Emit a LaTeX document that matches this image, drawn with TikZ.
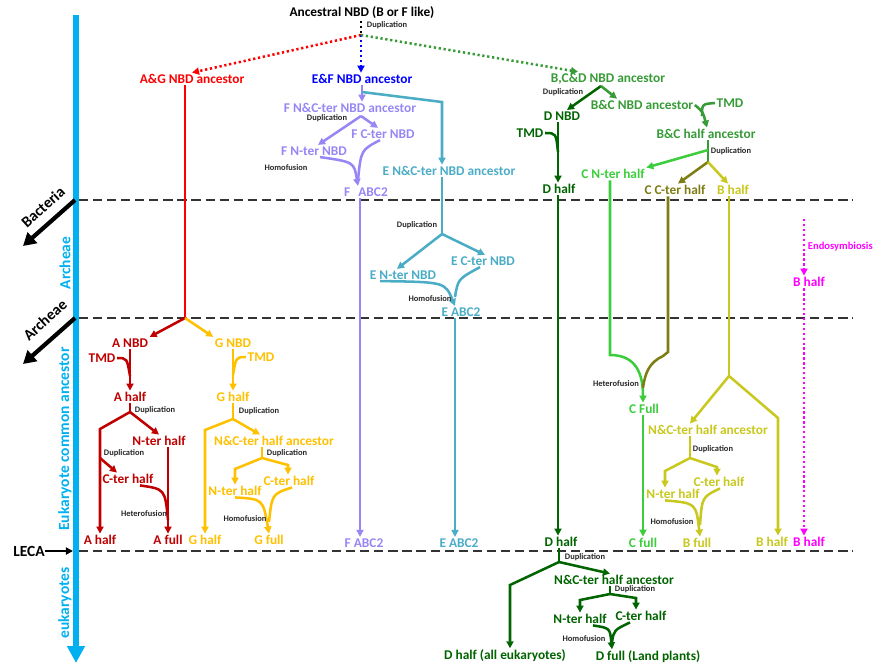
\documentclass[tikz,border=0pt]{standalone}
\usepackage{fontspec}
\setmainfont{Carlito}
\usepackage{tikz}
\usetikzlibrary{arrows.meta}
\usepackage{xcolor}
\definecolor{axisblue}{RGB}{0,176,240}
\definecolor{agred}{RGB}{255,0,0}
\definecolor{adred}{RGB}{192,0,0}
\definecolor{gorange}{RGB}{255,192,0}
\definecolor{efblue}{RGB}{0,0,255}
\definecolor{fpurple}{RGB}{150,135,245}
\definecolor{ecyan}{RGB}{75,172,198}
\definecolor{bcdgreen}{RGB}{55,155,55}
\definecolor{dgreen}{RGB}{0,100,0}
\definecolor{cgreen}{RGB}{60,205,60}
\definecolor{colive}{RGB}{125,125,20}
\definecolor{byellow}{RGB}{200,200,30}
\definecolor{bmagenta}{RGB}{255,0,255}
\begin{document}
\begin{tikzpicture}[x=0.025cm,y=-0.025cm,>={Triangle[length=5pt,width=5pt]},
  lbl/.style={font=\bfseries\fontsize{9.5}{11}\selectfont,inner sep=1pt},
  evt/.style={font=\bfseries\fontsize{6}{7}\selectfont,text=black!85,inner sep=0.5pt},
  sidelbl/.style={font=\bfseries\fontsize{11}{13}\selectfont,inner sep=0pt},
  br/.style={line width=1.8pt},
  dotline/.style={line width=1.8pt,dash pattern=on 1.6pt off 1.9pt},
  epochline/.style={line width=0.9pt,black!80,dash pattern=on 6.5pt off 3.5pt}]
\useasboundingbox (0,0) rectangle (874,667);
\draw[axisblue,line width=3.6pt,-{Triangle[length=12pt,width=12pt]}] (76,15) -- (76,663);
\foreach \y in {200,318,551} \draw[epochline] (79,\y) -- (853,\y);
\node[sidelbl,text=axisblue,rotate=90] at (65,263) {Archeae};
\node[sidelbl,text=axisblue,rotate=90] at (65,439) {Eukaryote common ancestor};
\node[sidelbl,text=axisblue,rotate=90] at (65,603) {eukaryotes};
\draw[line width=3pt,-{Triangle[length=9pt,width=10pt]}] (75,200) -- (23,246);
\node[sidelbl,rotate=42] at (43,207) {Bacteria};
\draw[line width=3pt,-{Triangle[length=9pt,width=10pt]}] (75,318) -- (23,364);
\node[sidelbl,rotate=42] at (45,320) {Archeae};
\node[sidelbl] (leca) at (29,551) {LECA};
\draw[line width=1.6pt,->] (leca) -- (73,551);

\node[lbl] (anc) at (362,13) {Ancestral NBD (B or F like)};
\coordinate (split) at (361,35);
\draw[dotline] (anc.south -| split) -- (split);
\node[evt,anchor=west] at (366,25) {Duplication};
\node[lbl,text=agred] (ag) at (192,79) {A\&G NBD ancestor};
\node[lbl,text=efblue] (ef) at (362,79) {E\&F NBD ancestor};
\node[lbl,text=bcdgreen] (bcd) at (608,79) {B,C\&D NBD ancestor};
\draw[dotline,agred,->] (split) -- (ag.north);
\draw[dotline,efblue,->] (split) -- (ef.north -| split);
\draw[dotline,bcdgreen,->] (split) -- (bcd.north -| 578,0);

\coordinate (agsplit) at (185,318);
\node[lbl,text=adred] (aNBD) at (130,343) {A NBD};
\node[lbl,text=gorange] (gNBD) at (233,343) {G NBD};
\draw[br,agred] (ag.south -| agsplit) -- (agsplit);
\draw[br,adred,->] (agsplit) -- (aNBD.north east);
\draw[br,gorange,->] (agsplit) -- (gNBD.north west);

\node[lbl,text=adred] (aTMD) at (102,358) {TMD};
\node[lbl,text=adred] (aHalf) at (130,397) {A half};
\draw[br,adred,->] (aNBD.south) -- (aHalf.north);
\draw[br,adred] (aTMD.east) .. controls (127,358) .. (130,376);
\node[evt,anchor=west] at (134,410) {Duplication};
\coordinate (aDup) at (130,412);
\node[lbl,text=adred] (aNter) at (159,441) {N-ter half};
\node[lbl,text=adred] (aCter) at (128,479) {C-ter half};
\node[lbl,text=adred] (aHalfEnd) at (100,540) {A half};
\node[lbl,text=adred] (aFull) at (168,540) {A full};
\draw[br,adred] (aHalf.south) -- (aDup);
\draw[br,adred,->] (aDup) -- (aHalfEnd.north |- 0,429) -- (aHalfEnd.north);
\draw[br,adred,->] (aDup) -- (aNter.north);
\draw[br,adred,->] (aNter.south -| aFull) -- (aFull.north);
\coordinate (aDup2) at (100,458);
\node[evt,anchor=west] at (103,453) {Duplication};
\draw[br,adred,->] (aDup2) -- (aCter.north -| 117,0);
\draw[br,adred] (aCter.south -| 140,0) .. controls (165,489) .. (168,520);
\node[evt] at (144,514) {Heterofusion};

\node[lbl,text=gorange] (gTMD) at (261,357) {TMD};
\node[lbl,text=gorange] (gHalf) at (233,397) {G half};
\draw[br,gorange,->] (gNBD.south) -- (gHalf.north);
\draw[br,gorange] (gTMD.west) .. controls (236,357) .. (233,375);
\node[evt,anchor=west] at (238,411) {Duplication};
\coordinate (gDup) at (233,419);
\node[lbl,text=gorange] (gHalfEnd) at (205,540) {G half};
\node[lbl,text=gorange] (gNC) at (274,441) {N\&C-ter half ancestor};
\draw[br,gorange] (gHalf.south) -- (gDup);
\draw[br,gorange,->] (gDup) -- (gHalfEnd.north |- 0,430) -- (gHalfEnd.north);
\draw[br,gorange,->] (gDup) -- (gNC.north -| 260,0);
\node[evt,anchor=west] at (266,453) {Duplication};
\coordinate (gDup2) at (262,458);
\node[lbl,text=gorange] (gNter) at (235,491) {N-ter half};
\node[lbl,text=gorange] (gCter) at (289,481) {C-ter half};
\node[lbl,text=gorange] (gFull) at (269,540) {G full};
\draw[br,gorange] (gNC.south -| gDup2) -- (gDup2);
\draw[br,gorange,->] (gDup2) -- (gNter.north |- 0,469) -- (gNter.north);
\draw[br,gorange,->] (gDup2) -- (288,465) -- (gCter.north -| 288,0);
\draw[br,gorange,->] (gNter.south) .. controls (263,499) .. (gFull.north);
\draw[br,gorange] (gCter.south -| 292,0) .. controls (272,494) .. (269,522);
\node[evt] at (245,519) {Homofusion};

\coordinate (efj) at (362,92);
\node[lbl,text=fpurple] (fNC) at (350,108) {F N\&C-ter NBD ancestor};
\node[lbl,text=ecyan] (eNC) at (449,171) {E N\&C-ter NBD ancestor};
\draw[br,fpurple,->] (ef.south -| efj) -- (fNC.north -| efj);
\draw[br,ecyan,->] (efj) -- (442,102) -- (eNC.north -| 442,0);
\node[evt] at (327,118) {Duplication};
\coordinate (fDup) at (361,116);
\node[lbl,text=fpurple] (fCter) at (383,134) {F C-ter NBD};
\node[lbl,text=fpurple] (fNter) at (314,151) {F N-ter NBD};
\node[lbl,text=fpurple] (fABC) at (366,192) {F\hspace{0.6em}ABC2};
\node[lbl,text=fpurple] (fEnd) at (364,543) {F ABC2};
\draw[br,fpurple,->] (fDup) -- (fNter.north -| 318,0);
\draw[br,fpurple,->] (fDup) -- (fCter.north -| 378,0);
\draw[br,fpurple,->] (fNter.south -| 320,0) .. controls (354,162) .. (fABC.north -| 358,0);
\draw[br,fpurple] (fCter.south -| 380,0) .. controls (361,150) .. (358,180);
\node[evt] at (286,168) {Homofusion};
\draw[br,fpurple,->] (fABC.south -| 360,0) -- (fEnd.north -| 360,0);

\coordinate (eDup) at (442,234);
\node[evt] at (417,225) {Duplication};
\node[lbl,text=ecyan] (eCter) at (483,261) {E C-ter NBD};
\node[lbl,text=ecyan] (eNter) at (403,275) {E N-ter NBD};
\node[lbl,text=ecyan] (eABC) at (461,312) {E ABC2};
\node[lbl,text=ecyan] (eEnd) at (459,543) {E ABC2};
\draw[br,ecyan] (eNC.south -| eDup) -- (eDup);
\draw[br,ecyan,->] (eDup) -- (eNter.north -| 397,0);
\draw[br,ecyan,->] (eDup) -- (eCter.north -| 485,0);
\draw[br,ecyan,->] (eNter.south -| 380,0) .. controls (445,282) .. (eABC.north -| 455,0);
\draw[br,ecyan] (eCter.south -| 480,0) .. controls (458,279) .. (455,297);
\node[evt] at (430,299) {Homofusion};
\draw[br,ecyan,->] (eABC.south -| 455,0) -- (eEnd.north -| 455,0);

\node[evt] at (563,92) {Duplication};
\coordinate (bcdDup) at (601,86);
\node[lbl,text=dgreen] (dNBD) at (562,116) {D NBD};
\node[lbl,text=bcdgreen] (bcNBD) at (642,105) {B\&C NBD ancestor};
\node[lbl,text=bcdgreen] (bcTMD) at (730,103) {TMD};
\node[lbl,text=bcdgreen] (bcHalf) at (706,134) {B\&C half ancestor};
\draw[br,dgreen,->] (bcdDup) -- (dNBD.north -| 567,0);
\draw[br,bcdgreen,->] (bcdDup) -- (bcNBD.north -| 617,0);
\draw[br,bcdgreen,->] (bcNBD.east) .. controls (703,112) .. (bcHalf.north -| 707,0);
\draw[br,bcdgreen] (bcTMD.west) .. controls (702,104) .. (702,116);
\coordinate (bcDup1) at (708,150);
\coordinate (bcDup) at (708,162);
\node[evt] at (731,151) {Duplication};
\node[lbl,text=cgreen] (cNter) at (613,174) {C N-ter half};
\node[lbl,text=colive] (cCter) at (675,190) {C C-ter half};
\node[lbl,text=byellow] (bHalf) at (733,190) {B half};
\draw[br,bcdgreen] (bcHalf.south -| bcDup) -- (bcDup);
\draw[br,cgreen,->] (bcDup1) -- (cNter.north east);
\draw[br,colive,->] (bcDup) -- (cCter.north -| 678,0);
\draw[br,byellow,->] (bcDup) -- (bHalf.north -| 728,0);

\node[lbl,text=cgreen] (cFull) at (644,409) {C Full};
\node[lbl,text=cgreen] (cEnd) at (643,543) {C full};
\draw[br,cgreen,->] (cNter.south -| 610,0) -- (610,355) .. controls (637,355) and (643,375) .. (cFull.north -| 643,0);
\draw[br,colive] (cCter.south -| 668,0) -- (668,352) -- (663,356) .. controls (650,362) and (645,372) .. (643,388);
\node[evt] at (616,384) {Heterofusion};
\draw[br,cgreen,->] (cFull.south -| 643,0) -- (cEnd.north -| 643,0);

\coordinate (bSplit) at (729,376);
\node[lbl,text=byellow] (bNC) at (708,430) {N\&C-ter half ancestor};
\node[lbl,text=byellow] (bHalfEnd) at (772,542) {B half};
\draw[br,byellow] (bHalf.south -| bSplit) -- (bSplit);
\draw[br,byellow,->] (bSplit) -- (bNC.north -| 690,0);
\draw[br,byellow,->] (bSplit) -- (778,418) -- (bHalfEnd.north -| 778,0);
\coordinate (bDup) at (690,458);
\node[evt] at (713,449) {Duplication};
\node[lbl,text=byellow] (bNter) at (673,494) {N-ter half};
\node[lbl,text=byellow] (bCter) at (719,482) {C-ter half};
\node[lbl,text=byellow] (bFull) at (697,543) {B full};
\draw[br,byellow] (bNC.south -| bDup) -- (bDup);
\draw[br,byellow,->] (bDup) -- (665,471) -- (bNter.north -| 665,0);
\draw[br,byellow,->] (bDup) -- (717,467) -- (bCter.north -| 717,0);
\draw[br,byellow,->] (bNter.south -| 665,0) .. controls (696,503) .. (bFull.north -| 700,0);
\draw[br,byellow] (bCter.south -| 720,0) .. controls (702,497) .. (700,525);
\node[evt] at (672,522) {Homofusion};

\coordinate (endoTop) at (804,219);
\node[lbl,text=bmagenta] (bEndo) at (809,282) {B half};
\node[lbl,text=bmagenta] (bMag) at (809,542) {B half};
\node[font=\bfseries\fontsize{7.5}{9}\selectfont,text=bmagenta,anchor=west,inner sep=0.5pt] at (807,247) {Endosymbiosis};
\draw[dotline,bmagenta,->] (endoTop) -- (bEndo.north -| endoTop);
\draw[dotline,bmagenta,->] (bEndo.south -| endoTop) -- (bMag.north -| endoTop);

\node[lbl,text=dgreen] (dTMD) at (530,133) {TMD};
\node[lbl,text=dgreen] (dHalf) at (559,189) {D half};
\node[lbl,text=dgreen] (dEnd) at (561,542) {D half};
\draw[br,dgreen,->] (dNBD.south -| 558,0) -- (dHalf.north -| 558,0);
\draw[br,dgreen] (dTMD.east) .. controls (556,133) .. (558,152);
\draw[br,dgreen,->] (dHalf.south -| 558,0) -- (dEnd.north -| 558,0);
\coordinate (dDup) at (559,562);
\node[evt] at (585,557) {Duplication};
\node[lbl,text=dgreen] (dAll) at (505,656) {D half (all eukaryotes)};
\node[lbl,text=dgreen] (dNC) at (614,580) {N\&C-ter half ancestor};
\draw[br,dgreen] (dEnd.south -| dDup) -- (dDup);
\draw[br,dgreen,->] (dDup) -- (510,585) -- (dAll.north -| 510,0);
\draw[br,dgreen,->] (dDup) -- (dNC.north -| 610,0);
\coordinate (dDup2) at (610,594);
\node[evt] at (635,589) {Duplication};
\node[lbl,text=dgreen] (dNter) at (580,619) {N-ter half};
\node[lbl,text=dgreen] (dCter) at (641,616) {C-ter half};
\node[lbl,text=dgreen] (dFull) at (648,657) {D full (Land plants)};
\draw[br,dgreen] (dNC.south -| dDup2) -- (dDup2);
\draw[br,dgreen,->] (dDup2) -- (580,600) -- (dNter.north -| 580,0);
\draw[br,dgreen,->] (dDup2) -- (636,598) -- (dCter.north -| 636,0);
\draw[br,dgreen,->] (dNter.south -| 593,0) .. controls (610,628) .. (dFull.north -| 612,0);
\draw[br,dgreen] (dCter.south -| 630,0) .. controls (614,630) .. (612,642);
\node[evt] at (584,639) {Homofusion};
\end{tikzpicture}
\end{document}
